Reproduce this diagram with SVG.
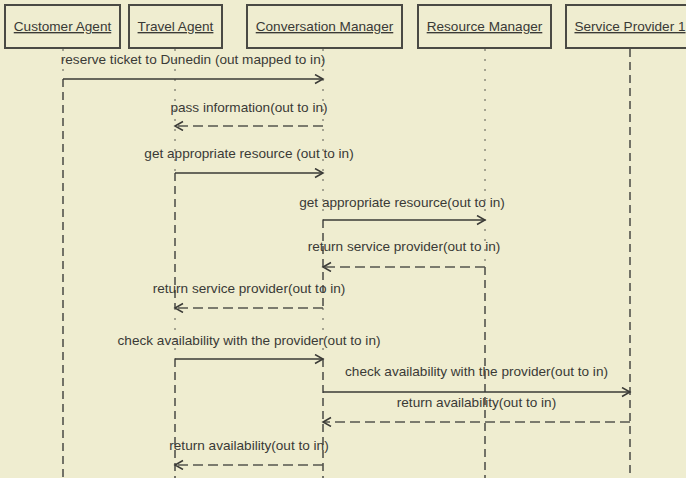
<svg xmlns="http://www.w3.org/2000/svg" width="686" height="478" viewBox="0 0 686 478">
  <style>
    .bg { fill: #efedd0; }
    .box { fill: #efedd0; stroke: #4a4a44; stroke-width: 2; }
    .title { font-family: "Liberation Sans", Arial, sans-serif; font-size: 13.6px; fill: #3a3a36; text-anchor: middle; text-decoration: underline; }
    .label { font-family: "Liberation Sans", Arial, sans-serif; font-size: 13.6px; fill: #3a3a36; text-anchor: middle; }
    .life-idle { stroke: #5a5a52; stroke-width: 1; stroke-dasharray: 2 8; fill: none; }
    .life { stroke: #4a4a44; stroke-width: 1.5; stroke-dasharray: 8 5; fill: none; }
    .call { stroke: #3a3a36; stroke-width: 1.5; fill: none; marker-end: url(#open); }
    .reply { stroke: #55554e; stroke-width: 1.5; stroke-dasharray: 10 5; fill: none; marker-end: url(#open); }
  </style>
  <defs>
    <marker id="open" markerUnits="userSpaceOnUse" markerWidth="12" markerHeight="12" refX="9" refY="5" orient="auto">
      <path d="M1,0.5 L9,5 L1,9.5" fill="none" stroke="#3a3a36" stroke-width="1.5"/>
    </marker>
  </defs>

  <rect class="bg" x="0" y="0" width="686" height="478"/>

  <!-- lifelines: thin dotted while idle, dashed while active -->
  <g id="lifelines">
    <line class="life-idle" x1="63" y1="49" x2="63" y2="79"/>
    <line class="life" x1="63" y1="79" x2="63" y2="478"/>

    <line class="life-idle" x1="175" y1="49" x2="175" y2="173"/>
    <line class="life" x1="175" y1="173" x2="175" y2="308"/>
    <line class="life-idle" x1="175" y1="308" x2="175" y2="359"/>
    <line class="life" x1="175" y1="359" x2="175" y2="478"/>

    <line class="life-idle" x1="323" y1="49" x2="323" y2="220"/>
    <line class="life" x1="323" y1="220" x2="323" y2="308"/>
    <line class="life-idle" x1="323" y1="308" x2="323" y2="359"/>
    <line class="life" x1="323" y1="359" x2="323" y2="478"/>

    <line class="life-idle" x1="485" y1="49" x2="485" y2="267"/>
    <line class="life" x1="485" y1="267" x2="485" y2="478"/>

    <line class="life" x1="630" y1="49" x2="630" y2="478"/>
  </g>

  <!-- participants -->
  <g id="customer-agent">
    <rect class="box" x="5" y="5" width="115" height="43"/>
    <text class="title" x="62.5" y="31">Customer Agent</text>
  </g>
  <g id="travel-agent">
    <rect class="box" x="129" y="5" width="93" height="43"/>
    <text class="title" x="175.5" y="31">Travel Agent</text>
  </g>
  <g id="conversation-manager">
    <rect class="box" x="247" y="5" width="155" height="43"/>
    <text class="title" x="324.5" y="31">Conversation Manager</text>
  </g>
  <g id="resource-manager">
    <rect class="box" x="418" y="5" width="133" height="43"/>
    <text class="title" x="484.5" y="31">Resource Manager</text>
  </g>
  <g id="service-provider-1">
    <rect class="box" x="566" y="5" width="130" height="43"/>
    <text class="title" x="630" y="31">Service Provider 1</text>
  </g>

  <!-- messages -->
  <g id="messages">
    <line class="call" x1="63" y1="79" x2="323" y2="79"/>
    <text class="label" x="193" y="64">reserve ticket to Dunedin (out mapped to in)</text>

    <line class="reply" x1="323" y1="126" x2="175" y2="126"/>
    <text class="label" x="249" y="111.5">pass information(out to in)</text>

    <line class="call" x1="175" y1="173" x2="323" y2="173"/>
    <text class="label" x="249" y="158">get appropriate resource (out to in)</text>

    <line class="call" x1="323" y1="220" x2="485" y2="220"/>
    <text class="label" x="402" y="206.5">get appropriate resource(out to in)</text>

    <line class="reply" x1="485" y1="267" x2="323" y2="267"/>
    <text class="label" x="404" y="251">return service provider(out to in)</text>

    <line class="reply" x1="323" y1="308" x2="175" y2="308"/>
    <text class="label" x="249" y="293">return service provider(out to in)</text>

    <line class="call" x1="175" y1="359" x2="323" y2="359"/>
    <text class="label" x="249" y="345">check availability with the provider(out to in)</text>

    <line class="call" x1="323" y1="392" x2="630" y2="392"/>
    <text class="label" x="476.5" y="376">check availability with the provider(out to in)</text>

    <line class="reply" x1="630" y1="422" x2="323" y2="422"/>
    <text class="label" x="476.5" y="407">return availability(out to in)</text>

    <line class="reply" x1="323" y1="465" x2="175" y2="465"/>
    <text class="label" x="249" y="450">return availability(out to in)</text>
  </g>
</svg>
